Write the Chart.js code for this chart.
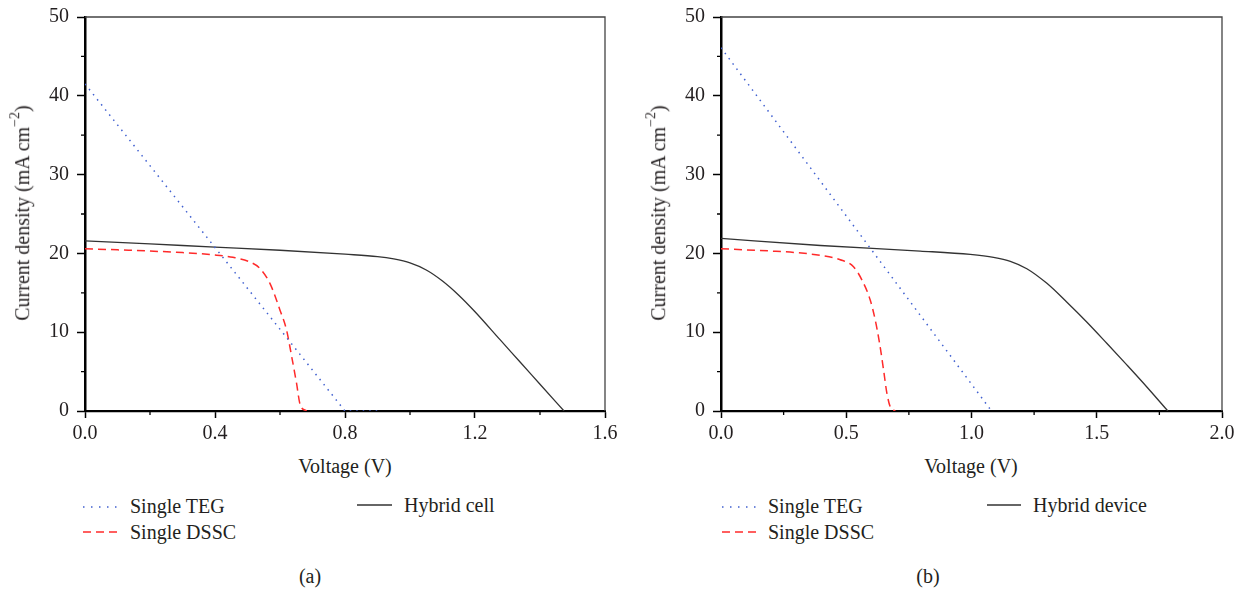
<!DOCTYPE html>
<html>
<head>
  <title>J-V curves: TEG, DSSC and hybrid</title>
  <script src="https://cdn.jsdelivr.net/npm/chart.js"></script>
  <style>
    body {
      margin: 0;
      background: #fff;
      font-family: 'Liberation Serif', 'Times New Roman', serif;
      color: #231f20;
    }
    #page {
      position: relative;
      width: 1247px;
      height: 591px;
      overflow: hidden;
    }
    canvas { position: absolute; top: 0; }
    #chartA { left: 0; }
    #chartB { left: 636px; }
    .txt {
      position: absolute;
      font-size: 20px;
      white-space: nowrap;
      line-height: 1;
      transform: translate(0, -50%);
    }
    .center { transform: translate(-50%, -50%); }
    .ytitle { transform: translate(-50%, -50%) rotate(-90deg); }
    .ytitle sup { font-size: 14px; position: relative; top: -2px; }
    svg.swatch { position: absolute; overflow: visible; }
  </style>
</head>
<body>
<div id="page">
  <canvas id="chartA" width="620" height="450"></canvas>
  <canvas id="chartB" width="611" height="450"></canvas>

  <div class="txt ytitle" style="left:21px; top:213px;">Current density (mA cm<sup>&minus;2</sup>)</div>
  <div class="txt ytitle" style="left:657px; top:213px;">Current density (mA cm<sup>&minus;2</sup>)</div>
  <div class="txt center" style="left:345px; top:466px;">Voltage (V)</div>
  <div class="txt center" style="left:971px; top:466px;">Voltage (V)</div>

  <!-- legend (a) -->
  <svg class="swatch" style="left:83px; top:507px;" width="36" height="2"><line x1="0" y1="0" x2="36" y2="0" stroke="#4060d0" stroke-width="1.5" stroke-dasharray="1.5 6.5"/></svg>
  <div class="txt" style="left:130px; top:506px;">Single TEG</div>
  <svg class="swatch" style="left:83px; top:532px;" width="36" height="2"><line x1="0" y1="0" x2="36" y2="0" stroke="#ff2a2a" stroke-width="1.5" stroke-dasharray="8 5"/></svg>
  <div class="txt" style="left:130px; top:532px;">Single DSSC</div>
  <svg class="swatch" style="left:357px; top:505px;" width="35" height="2"><line x1="0" y1="0" x2="35" y2="0" stroke="#333" stroke-width="1.3"/></svg>
  <div class="txt" style="left:404px; top:505px;">Hybrid cell</div>
  <div class="txt center" style="left:310px; top:576px;">(a)</div>

  <!-- legend (b) -->
  <svg class="swatch" style="left:722px; top:507px;" width="36" height="2"><line x1="0" y1="0" x2="36" y2="0" stroke="#4060d0" stroke-width="1.5" stroke-dasharray="1.5 6.5"/></svg>
  <div class="txt" style="left:768px; top:506px;">Single TEG</div>
  <svg class="swatch" style="left:722px; top:532px;" width="36" height="2"><line x1="0" y1="0" x2="36" y2="0" stroke="#ff2a2a" stroke-width="1.5" stroke-dasharray="8 5"/></svg>
  <div class="txt" style="left:768px; top:532px;">Single DSSC</div>
  <svg class="swatch" style="left:987px; top:505px;" width="34" height="2"><line x1="0" y1="0" x2="34" y2="0" stroke="#333" stroke-width="1.3"/></svg>
  <div class="txt" style="left:1033px; top:505px;">Hybrid device</div>
  <div class="txt center" style="left:928px; top:576px;">(b)</div>
</div>

<script>
  // ---- data ----
  // panel (a)
  const tegVoltA = [0, 0.8, 0.9];
  const tegCurrA = [41.5, 0, 0];
  const dsscVoltA = [0, 0.1, 0.2, 0.3, 0.4, 0.455, 0.508, 0.538, 0.569, 0.6, 0.62, 0.636, 0.651, 0.662, 0.682];
  const dsscCurrA = [20.6, 20.45, 20.3, 20.1, 19.8, 19.5, 18.9, 18.1, 16.2, 12.8, 10.3, 6.9, 3.5, 0.8, 0];
  const hybVoltA = [0, 0.2, 0.4, 0.6, 0.8, 0.9, 0.95, 1.0, 1.05, 1.1, 1.15, 1.2, 1.277, 1.338, 1.4, 1.474];
  const hybCurrA = [21.6, 21.2, 20.8, 20.4, 19.9, 19.6, 19.3, 18.8, 17.9, 16.5, 14.7, 12.6, 9.05, 6.25, 3.4, 0];

  // panel (b)
  const tegVoltB = [0, 1.08];
  const tegCurrB = [46.1, 0];
  const dsscVoltB = [0, 0.1, 0.2, 0.3, 0.397, 0.476, 0.529, 0.563, 0.596, 0.616, 0.633, 0.649, 0.662, 0.676, 0.696];
  const dsscCurrB = [20.6, 20.45, 20.3, 20.1, 19.75, 19.2, 18.3, 16.6, 14.05, 11.5, 8.6, 5.2, 2.3, 0.5, 0];
  const hybVoltB = [0, 0.397, 0.795, 0.995, 1.088, 1.155, 1.221, 1.301, 1.381, 1.46, 1.54, 1.62, 1.7, 1.784];
  const hybCurrB = [21.9, 21.0, 20.3, 19.87, 19.5, 19.0, 18.06, 16.2, 13.8, 11.3, 8.6, 5.85, 3.05, 0];

  // tick values
  const xTicksA = [0, 0.4, 0.8, 1.2, 1.6];
  const xTicksB = [0, 0.5, 1.0, 1.5, 2.0];
  const yTicks = [0, 10, 20, 30, 40, 50];

  Chart.defaults.font.family = "'Liberation Serif', 'Times New Roman', serif";
  Chart.defaults.font.size = 20;
  Chart.defaults.color = '#231f20';

  function pts(xs, ys) {
    return xs.map((x, i) => ({ x: x, y: ys[i] }));
  }

  // frame on top/right + short minor ticks halfway between the major ones
  const frameAndMinor = {
    id: 'frameAndMinor',
    afterDraw(chart) {
      const { ctx, chartArea: a, scales } = chart;
      ctx.save();
      ctx.strokeStyle = '#444';
      ctx.lineWidth = 1.3;
      ctx.beginPath();
      ctx.moveTo(a.left, a.top);
      ctx.lineTo(a.right, a.top);
      ctx.lineTo(a.right, a.bottom);
      ctx.stroke();

      ctx.strokeStyle = '#000';
      ctx.lineWidth = 1.3;
      const xt = scales.x.ticks.map(t => t.value);
      const yt = scales.y.ticks.map(t => t.value);
      ctx.beginPath();
      for (let i = 0; i < xt.length - 1; i++) {
        const px = scales.x.getPixelForValue((xt[i] + xt[i + 1]) / 2);
        ctx.moveTo(px, a.bottom);
        ctx.lineTo(px, a.bottom + 4);
      }
      for (let i = 0; i < yt.length - 1; i++) {
        const py = scales.y.getPixelForValue((yt[i] + yt[i + 1]) / 2);
        ctx.moveTo(a.left, py);
        ctx.lineTo(a.left - 4, py);
      }
      ctx.stroke();
      ctx.restore();
    }
  };

  function makePanel(id, xTicks, teg, dssc, hyb) {
    const ctx = document.getElementById(id).getContext('2d');
    return new Chart(ctx, {
      type: 'line',
      data: {
        datasets: [
          {
            label: 'Single TEG',
            data: teg,
            borderColor: '#4060d0',
            borderWidth: 1.5,
            borderDash: [1.5, 5],
            tension: 0
          },
          {
            label: 'Single DSSC',
            data: dssc,
            borderColor: '#ff2a2a',
            borderWidth: 1.5,
            borderDash: [8, 5],
            cubicInterpolationMode: 'monotone'
          },
          {
            label: 'Hybrid',
            data: hyb,
            borderColor: '#333',
            borderWidth: 1.3,
            cubicInterpolationMode: 'monotone'
          }
        ]
      },
      options: {
        responsive: false,
        animation: false,
        events: [],
        elements: { point: { radius: 0 } },
        layout: { padding: { left: 0, top: 17, right: id === 'chartA' ? 15 : 25, bottom: 0 } },
        plugins: { legend: { display: false }, tooltip: { enabled: false } },
        scales: {
          x: {
            type: 'linear',
            min: xTicks[0],
            max: xTicks[xTicks.length - 1],
            afterBuildTicks: s => { s.ticks = xTicks.map(v => ({ value: v })); },
            ticks: {
              padding: 4,
              maxRotation: 0,
              callback: v => v.toFixed(1)
            },
            grid: { display: true, drawOnChartArea: false, drawTicks: true, tickLength: 7, color: '#000', tickWidth: 1.5 },
            border: { display: true, color: '#000', width: 2.2 },
            afterFit: s => {
              s.height = 39;
              s.paddingLeft = 0;
              s.paddingRight = 0;
            }
          },
          y: {
            type: 'linear',
            min: yTicks[0],
            max: yTicks[yTicks.length - 1],
            afterBuildTicks: s => { s.ticks = yTicks.map(v => ({ value: v })); },
            ticks: { padding: 8 },
            grid: { display: true, drawOnChartArea: false, drawTicks: true, tickLength: 8, color: '#000', tickWidth: 1.5 },
            border: { display: true, color: '#000', width: 2.5 },
            afterFit: s => {
              s.width = 85;
              s.paddingTop = 0;
              s.paddingBottom = 0;
            }
          }
        }
      },
      plugins: [frameAndMinor]
    });
  }

  makePanel('chartA', xTicksA,
    pts(tegVoltA, tegCurrA), pts(dsscVoltA, dsscCurrA), pts(hybVoltA, hybCurrA));
  makePanel('chartB', xTicksB,
    pts(tegVoltB, tegCurrB), pts(dsscVoltB, dsscCurrB), pts(hybVoltB, hybCurrB));
</script>
</body>
</html>
